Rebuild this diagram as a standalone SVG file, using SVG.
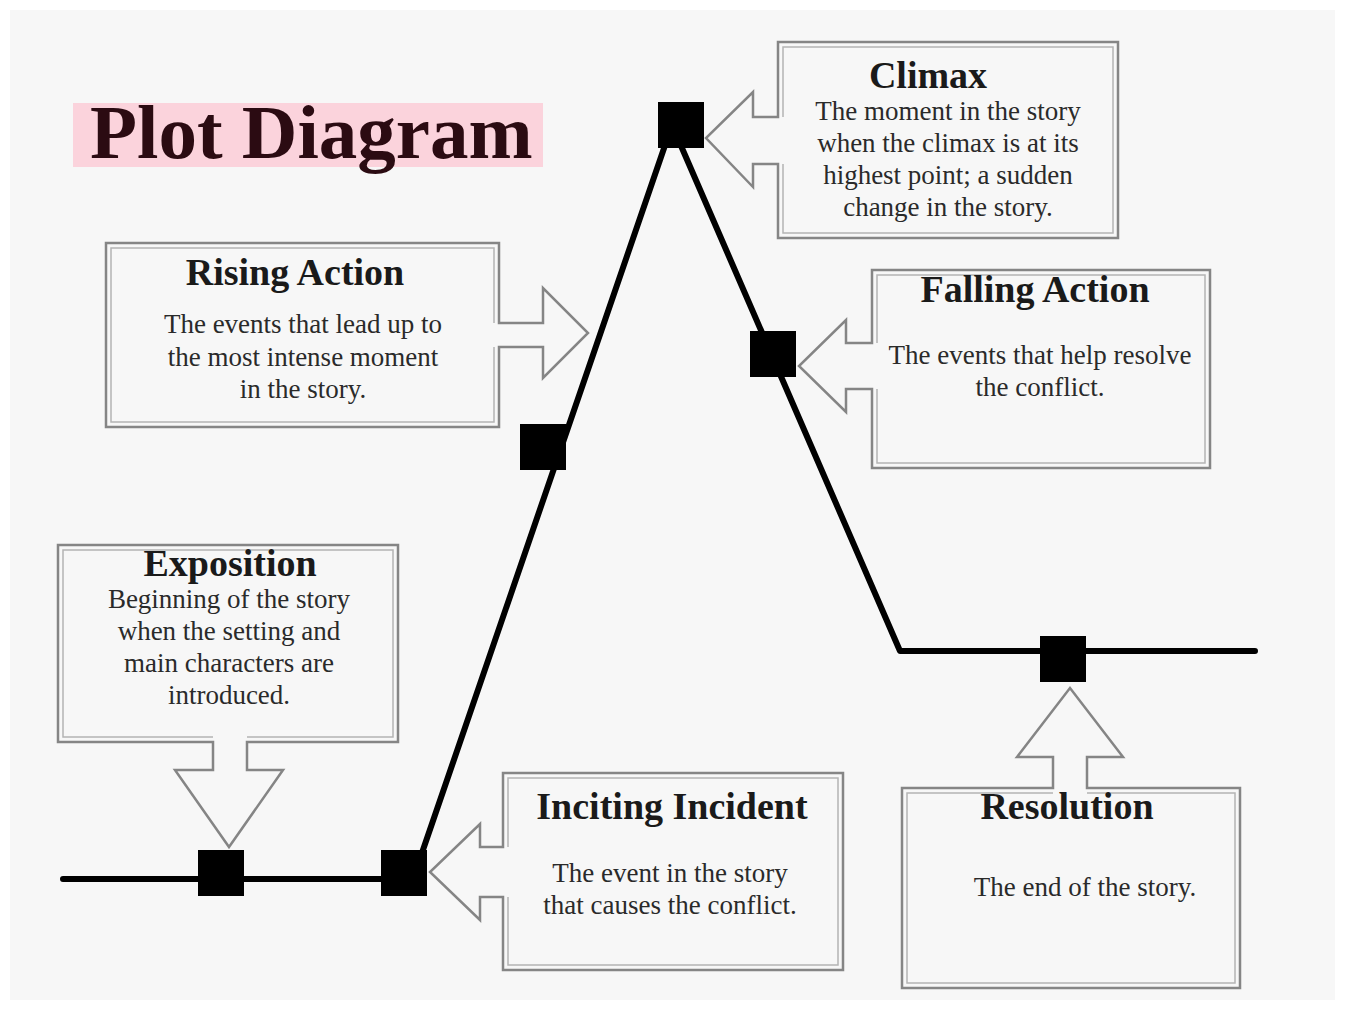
<svg xmlns="http://www.w3.org/2000/svg" width="1345" height="1009" viewBox="0 0 1345 1009">
<style>
  .bg { fill: #f7f7f7; }
  .outline { fill: none; stroke: #858585; stroke-width: 2.5; stroke-linejoin: miter; }
  .inner { fill: none; stroke: #b4b4b4; stroke-width: 1.5; }
  .box { fill: #f7f7f7; }
  .sq { fill: #000; }
  .title { font-family: "Liberation Serif", "Times New Roman", serif; font-weight: bold; font-size: 38px; fill: #1a1a1a; text-anchor: middle; }
  .body { font-family: "Liberation Serif", "Times New Roman", serif; font-size: 27px; fill: #2a2a2a; text-anchor: middle; }
  .plot { fill: none; stroke: #000; stroke-width: 6; stroke-linejoin: round; stroke-linecap: round; }
</style>
<rect x="0" y="0" width="1345" height="1009" fill="#ffffff"/>
<rect class="bg" x="10" y="10" width="1325" height="990"/>

<g id="title">
  <rect x="73" y="103" width="470" height="64" fill="#fbd3dc"/>
  <text x="90" y="158" font-family="Liberation Serif, Times New Roman, serif" font-weight="bold" font-size="77" fill="#2b0b12">Plot Diagram</text>
</g>

<g id="connectors">
  <polyline class="plot" points="63,879 413,879 672,125 900,651 1255,651"/>
</g>

<g id="exposition">
  <path class="box outline" d="M213,742 V770 H175 L229,847 L283,770 H247 V742 H398 V545 H58 V742 Z"/>
  <path class="inner" d="M213,737 H63 V550 H393 V737 H247"/>
  <rect class="sq" x="198" y="850" width="46" height="46"/>
  <text class="title" x="230" y="576">Exposition</text>
  <text class="body" x="229" y="608">Beginning of the story</text>
  <text class="body" x="229" y="640">when the setting and</text>
  <text class="body" x="229" y="672">main characters are</text>
  <text class="body" x="229" y="704">introduced.</text>
</g>

<g id="inciting-incident">
  <path class="box outline" d="M503,847 H480 V824 L430,872 L480,920 V897 H503 V970 H843 V773 H503 Z"/>
  <path class="inner" d="M508,847 V778 H838 V965 H508 V897"/>
  <rect class="sq" x="381" y="850" width="46" height="46"/>
  <text class="title" x="672" y="819">Inciting Incident</text>
  <text class="body" x="670" y="882">The event in the story</text>
  <text class="body" x="670" y="914">that causes the conflict.</text>
</g>

<g id="rising-action">
  <path class="box outline" d="M499,323 H543 V288 L588,333 L543,378 V347 H499 V427 H106 V243 H499 Z"/>
  <path class="inner" d="M494,323 V248 H111 V422 H494 V347"/>
  <rect class="sq" x="520" y="424" width="46" height="46"/>
  <text class="title" x="295" y="285">Rising Action</text>
  <text class="body" x="303" y="333">The events that lead up to</text>
  <text class="body" x="303" y="366">the most intense moment</text>
  <text class="body" x="303" y="398">in the story.</text>
</g>

<g id="climax">
  <path class="box outline" d="M778,117 H753 V92 L706,138 L753,187 V164 H778 V238 H1118 V42 H778 Z"/>
  <path class="inner" d="M783,117 V47 H1113 V233 H783 V164"/>
  <rect class="sq" x="658" y="102" width="46" height="46"/>
  <text class="title" x="928" y="88">Climax</text>
  <text class="body" x="948" y="120">The moment in the story</text>
  <text class="body" x="948" y="152">when the climax is at its</text>
  <text class="body" x="948" y="184">highest point; a sudden</text>
  <text class="body" x="948" y="216">change in the story.</text>
</g>

<g id="falling-action">
  <path class="box outline" d="M872,343 H846 V320 L799,366 L846,412 V389 H872 V468 H1210 V270 H872 Z"/>
  <path class="inner" d="M877,343 V275 H1205 V463 H877 V389"/>
  <rect class="sq" x="750" y="331" width="46" height="46"/>
  <text class="title" x="1035" y="302">Falling Action</text>
  <text class="body" x="1040" y="364">The events that help resolve</text>
  <text class="body" x="1040" y="396">the conflict.</text>
</g>

<g id="resolution">
  <path class="box outline" d="M1053,788 V757 H1017 L1070,688 L1123,757 H1087 V788 H1240 V988 H902 V788 Z"/>
  <path class="inner" d="M1087,793 H1235 V983 H907 V793 H1053"/>
  <rect class="sq" x="1040" y="636" width="46" height="46"/>
  <text class="title" x="1067" y="819">Resolution</text>
  <text class="body" x="1085" y="896">The end of the story.</text>
</g>
</svg>
